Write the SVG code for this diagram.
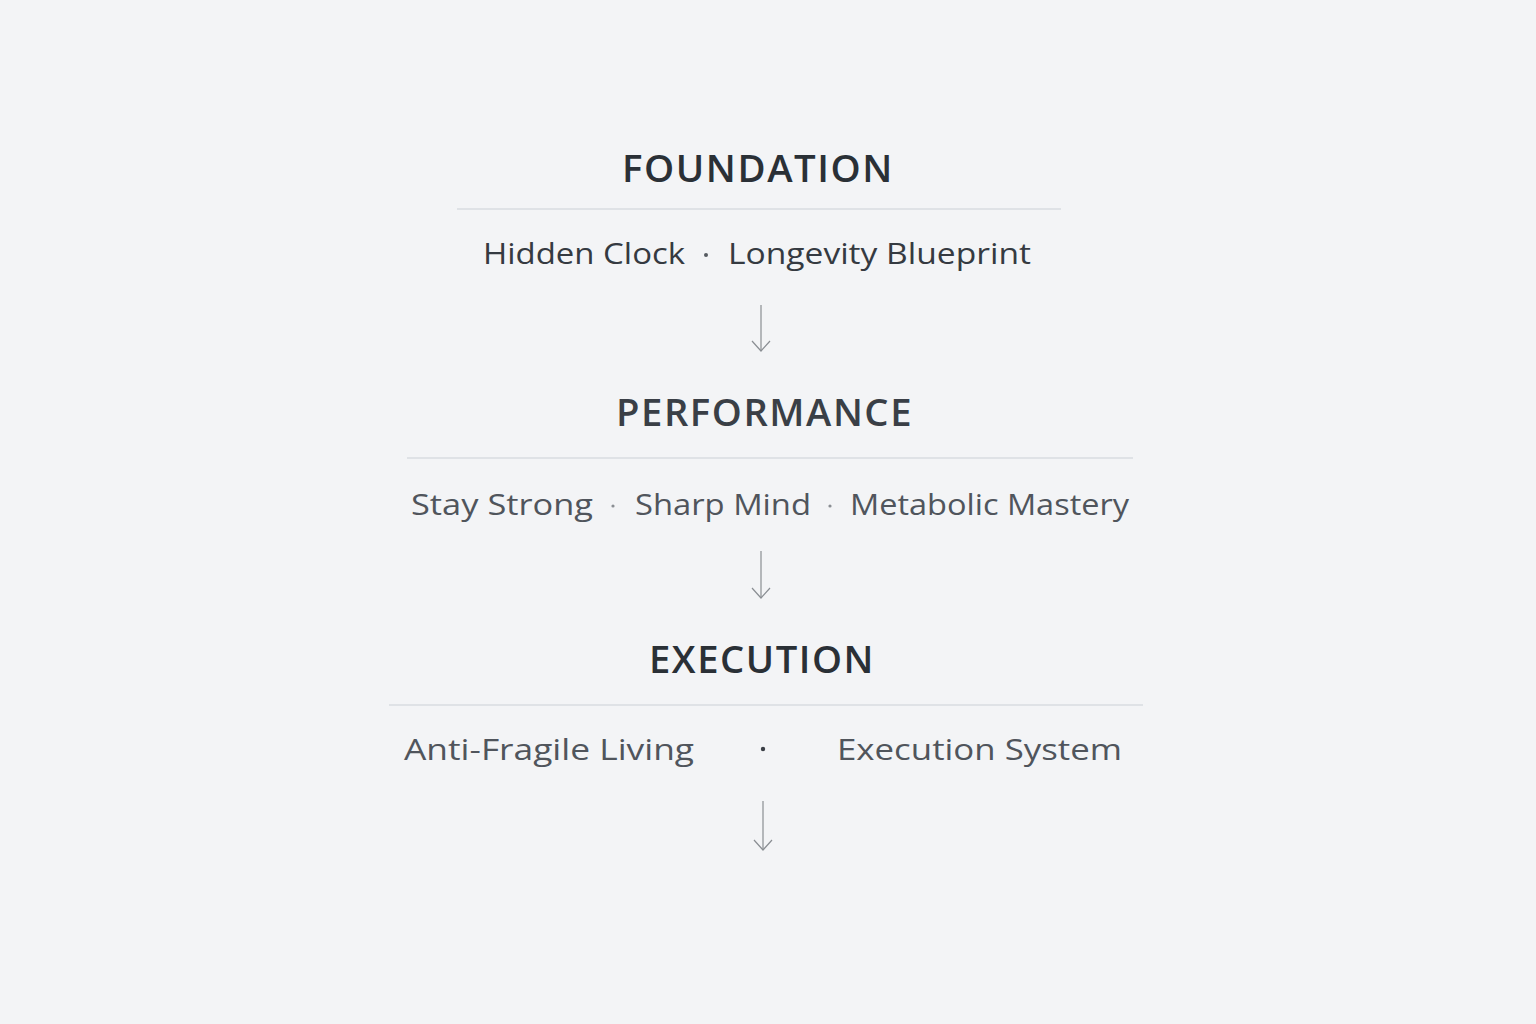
<svg xmlns="http://www.w3.org/2000/svg" width="1536" height="1024" viewBox="0 0 1536 1024">
<defs>
<style>
.bg{fill:#f3f4f6}
.title{font-family:"Open Sans","Noto Sans","DejaVu Sans",sans-serif;font-size:37px;font-weight:600;letter-spacing:1.5px;fill:#2a3036}
.sub{font-family:"Open Sans","Noto Sans","DejaVu Sans",sans-serif;font-size:30px;fill:#353a41}
.sub2{fill:#50555c}
.rule{stroke:#d9dce0;stroke-width:1.5}
.dot{fill:#555a60}
.arrow{stroke:#8a8e93;stroke-width:1.2;fill:none}
</style>
<marker id="ah" viewBox="0 0 20 20" refX="18" refY="10" markerWidth="20" markerHeight="20" markerUnits="userSpaceOnUse" orient="auto">
<path d="M8,1 L18,10 L8,19" fill="none" stroke="#8a8e93" stroke-width="1.2"/>
</marker>
</defs>
<rect class="bg" x="0" y="0" width="1536" height="1024"/>
<g id="foundation">
<text class="title" x="622" y="182" textLength="272" lengthAdjust="spacingAndGlyphs">FOUNDATION</text>
<line class="rule" x1="457" y1="209" x2="1061" y2="209"/>
<text class="sub" x="483" y="264" textLength="202" lengthAdjust="spacingAndGlyphs">Hidden Clock</text>
<circle class="dot" cx="706" cy="255" r="2"/>
<text class="sub" x="728" y="264" textLength="303" lengthAdjust="spacingAndGlyphs">Longevity Blueprint</text>
</g>
<g id="performance">
<text class="title" x="616" y="426" textLength="297" lengthAdjust="spacingAndGlyphs" style="fill:#3a3f46">PERFORMANCE</text>
<line class="rule" x1="407" y1="458" x2="1133" y2="458"/>
<text class="sub sub2" x="411" y="515" textLength="182" lengthAdjust="spacingAndGlyphs">Stay Strong</text>
<circle class="dot" cx="613" cy="506" r="1.6" style="fill:#8a8e93"/>
<text class="sub sub2" x="635" y="515" textLength="176" lengthAdjust="spacingAndGlyphs">Sharp Mind</text>
<circle class="dot" cx="830" cy="506" r="1.6" style="fill:#8a8e93"/>
<text class="sub sub2" x="850" y="515" textLength="279" lengthAdjust="spacingAndGlyphs">Metabolic Mastery</text>
</g>
<g id="execution">
<text class="title" x="649" y="673" textLength="226" lengthAdjust="spacingAndGlyphs">EXECUTION</text>
<line class="rule" x1="389" y1="705" x2="1143" y2="705"/>
<text class="sub sub2" x="404" y="760" textLength="290" lengthAdjust="spacingAndGlyphs">Anti-Fragile Living</text>
<circle class="dot" cx="763" cy="749" r="2.2" style="fill:#3a3f46"/>
<text class="sub sub2" x="837" y="760" textLength="285" lengthAdjust="spacingAndGlyphs">Execution System</text>
</g>
<g id="connectors">
<line class="arrow" x1="761" y1="305" x2="761" y2="351" marker-end="url(#ah)"/>
<line class="arrow" x1="761" y1="551" x2="761" y2="598" marker-end="url(#ah)"/>
<line class="arrow" x1="763" y1="801" x2="763" y2="850" marker-end="url(#ah)"/>
</g>
</svg>
